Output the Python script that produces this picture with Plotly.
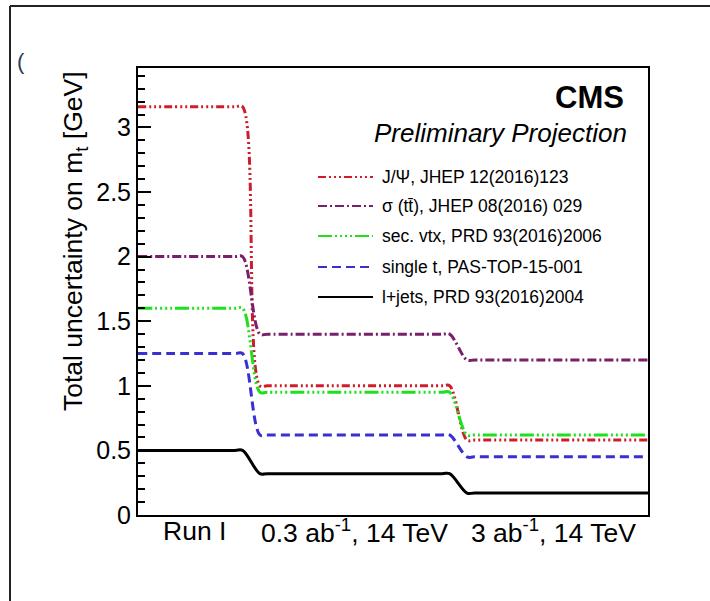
import plotly.graph_objects as go

# ---------------- data ----------------
periods = ["Run I", "0.3 ab<sup>-1</sup>, 14 TeV", "3 ab<sup>-1</sup>, 14 TeV"]
period_edges = [0.0, 2.22, 6.28, 10.0]      # x-axis boundaries of the three periods
trans_half = 0.17                            # half-width of the smooth step between periods
corner = 0.15                                # rounding length of the step corners

names = [
    "J/Ψ, JHEP 12(2016)123",
    "σ (tt̄), JHEP 08(2016) 029",
    "sec. vtx, PRD 93(2016)2006",
    "single t, PAS-TOP-15-001",
    "l+jets, PRD 93(2016)2004",
]
jpsi = [3.16, 1.00, 0.58]
sigma_tt = [2.00, 1.40, 1.20]
sec_vtx = [1.60, 0.95, 0.62]
single_t = [1.25, 0.62, 0.45]
l_jets = [0.50, 0.32, 0.17]
series = [jpsi, sigma_tt, sec_vtx, single_t, l_jets]

colors = ["#d01c2a", "#7a1f6a", "#1fe01f", "#3a2fd0", "#000000"]
dashes = [
    "8px,3px,2px,3px,2px,3px,2px,3px",
    "9px,3px,2px,3px",
    "14px,3px,2px,3px,2px,3px,2px,3px,2px,3px",
    "9px,5px",
    "solid",
]

# ---------------- layout geometry (pixels) ----------------
W, H = 710, 601
L, R, T, B = 138, 648, 68, 515
YMAX = 3.46


def px(x):
    return (x - L) / (R - L)


def py(y):
    return (B - y) / (B - T)


FONT = "Liberation Sans, Arial, Helvetica, sans-serif"

fig = go.Figure()


def step_xy(vals):
    xs, ys = [period_edges[0]], [vals[0]]
    for i, b in enumerate(period_edges[1:-1]):
        s, e = b - trans_half, b + trans_half
        xs += [s - corner, s, e, e + corner]
        ys += [vals[i], vals[i], vals[i + 1], vals[i + 1]]
    xs.append(period_edges[-1])
    ys.append(vals[-1])
    return xs, ys


for name, vals, c, d in zip(names, series, colors, dashes):
    xs, ys = step_xy(vals)
    fig.add_trace(go.Scatter(
        x=xs, y=ys, mode="lines", name=name,
        line=dict(color=c, width=3, dash=d, shape="spline", smoothing=1),
        showlegend=False, hoverinfo="skip",
    ))

centers = [(period_edges[i] + period_edges[i + 1]) / 2 for i in range(3)]

fig.update_layout(
    width=W, height=H,
    margin=dict(l=L, r=W - R, t=T, b=H - B, pad=0),
    paper_bgcolor="white", plot_bgcolor="white",
    font=dict(family=FONT, color="black"),
    xaxis=dict(
        range=[period_edges[0], period_edges[-1]],
        showticklabels=False, ticks="",
        showgrid=False, zeroline=False,
        showline=True, linecolor="black", linewidth=2, mirror=True,
    ),
    yaxis=dict(
        range=[0, YMAX], dtick=0.5, tick0=0,
        ticks="inside", ticklen=13, tickwidth=2, tickcolor="black",
        tickfont=dict(size=25, family=FONT),
        tickformat="~g",
        minor=dict(ticks="inside", ticklen=7, tickwidth=2, tickcolor="black", dtick=0.1),
        showgrid=False, zeroline=False,
        showline=True, linecolor="black", linewidth=2, mirror=True,
    ),
)

# category labels placed at the period centres on the x axis
for cx, lab in zip(centers, periods):
    fig.add_annotation(text=lab, xref="x", yref="paper", x=cx, y=py(531),
                       xanchor="center", yanchor="middle", showarrow=False,
                       font=dict(size=26.5, family=FONT))

# y-axis title
fig.add_annotation(
    text="Total uncertainty on m<sub>t</sub> [GeV]",
    xref="paper", yref="paper", x=px(75), y=py(241),
    textangle=-90, showarrow=False, font=dict(size=26.5, family=FONT),
    xanchor="center", yanchor="middle",
)

# CMS label
fig.add_annotation(text="<b>CMS</b>", xref="paper", yref="paper",
                   x=px(626), y=py(97), xanchor="right", yanchor="middle",
                   showarrow=False, font=dict(size=31, family=FONT))
fig.add_annotation(text="<i>Preliminary Projection</i>", xref="paper", yref="paper",
                   x=px(629), y=py(133), xanchor="right", yanchor="middle",
                   showarrow=False, font=dict(size=26, family=FONT))

# custom legend
leg_y = [177, 206, 236, 267, 297]
for name, c, d, yy in zip(names, colors, dashes, leg_y):
    fig.add_shape(type="line", xref="paper", yref="paper",
                  x0=px(318), x1=px(373), y0=py(yy), y1=py(yy),
                  line=dict(color=c, width=2, dash=d))
    fig.add_annotation(text=name, xref="paper", yref="paper",
                       x=px(380), y=py(yy), xanchor="left", yanchor="middle",
                       showarrow=False, font=dict(size=17.5, family=FONT))

# outer frame lines of the picture
fig.add_shape(type="line", xref="paper", yref="paper",
              x0=px(10), x1=px(10), y0=py(6), y1=py(601),
              line=dict(color="#222222", width=2))
fig.add_shape(type="line", xref="paper", yref="paper",
              x0=px(10), x1=px(710), y0=py(6), y1=py(6),
              line=dict(color="#222222", width=2))
fig.add_annotation(text="(", xref="paper", yref="paper", x=px(15), y=py(47),
                   showarrow=False, font=dict(size=22, color="#2a3a5a", family=FONT))

fig.write_html("out.html")
